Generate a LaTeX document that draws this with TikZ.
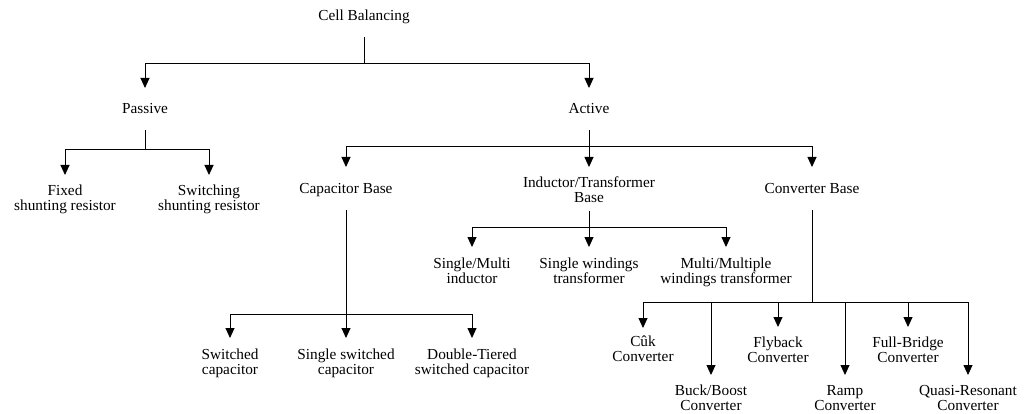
\documentclass[tikz,border=0pt]{standalone}
\usepackage{fontspec}
\setmainfont{Liberation Serif}
\usetikzlibrary{arrows.meta}
\begin{document}
\begin{tikzpicture}[x=1pt,y=-1pt,
  lbl/.style={anchor=north,align=center,inner sep=0pt,outer sep=0pt,font=\fontsize{15.3}{15}\selectfont},
  ln/.style={line width=0.9pt},
  arr/.style={ln,-{Triangle[width=9pt,length=10pt]}}]
\useasboundingbox (0,0) rectangle (1025,414);
% nodes
\node[lbl] (cb) at (364,10) {Cell Balancing};
\node[lbl] (pas) at (145,103) {Passive};
\node[lbl] (act) at (589,103) {Active};
\node[lbl] (fix) at (65,185) {Fixed\\shunting resistor};
\node[lbl] (swi) at (209,185) {Switching\\shunting resistor};
\node[lbl] (cap) at (346,183) {Capacitor Base};
\node[lbl] (ind) at (589,177) {Inductor/Transformer\\Base};
\node[lbl] (conv) at (812,183) {Converter Base};
\node[lbl] (sm) at (472,258) {Single/Multi\\inductor};
\node[lbl] (swt) at (589,258) {Single windings\\transformer};
\node[lbl] (mmw) at (726,258) {Multi/Multiple\\windings transformer};
\node[lbl] (swc) at (230,349) {Switched\\capacitor};
\node[lbl] (ssc) at (346,349) {Single switched\\capacitor};
\node[lbl] (dtc) at (472,349) {Double-Tiered\\switched capacitor};
\node[lbl] (cuk) at (643,336) {Cûk\\Converter};
\node[lbl] (buck) at (711,385) {Buck/Boost\\Converter};
\node[lbl] (fly) at (778,337) {Flyback\\Converter};
\node[lbl] (ramp) at (845,385) {Ramp\\Converter};
\node[lbl] (fb) at (908,337) {Full-Bridge\\Converter};
\node[lbl] (qr) at (968,385) {Quasi-Resonant\\Converter};
% bus coordinates
\coordinate (b0) at (cb.south |- 0,63);
\coordinate (b1) at (pas.south |- 0,149);
\coordinate (b2) at (act.south |- 0,146);
\coordinate (b3) at (cap.south |- 0,314);
\coordinate (b4) at (ind.south |- 0,227);
\coordinate (b5) at (conv.south |- 0,302);
% level 0
\draw[ln] ([yshift=-13.5pt]cb.south) -- (b0);
\draw[arr] (b0) -| ([yshift=15pt]pas.north);
\draw[arr] (b0) -| ([yshift=15pt]act.north);
% passive
\draw[ln] ([yshift=-17pt]pas.south) -- (b1);
\draw[arr] (b1) -| ([yshift=10pt]fix.north);
\draw[arr] (b1) -| ([yshift=10pt]swi.north);
% active
\draw[ln] ([yshift=-17pt]act.south) -- (b2);
\draw[arr] (b2) -| ([yshift=16pt]cap.north);
\draw[arr] (b2) -- ([yshift=10pt]ind.north);
\draw[arr] (b2) -| ([yshift=16pt]conv.north);
% capacitor base
\draw[arr] ([yshift=-13.5pt]cap.south) -- ([yshift=11pt]ssc.north);
\draw[arr] (b3) -| ([yshift=11pt]swc.north);
\draw[arr] (b3) -| ([yshift=11pt]dtc.north);
% inductor/transformer base
\draw[arr] ([yshift=-8pt]ind.south) -- ([yshift=11pt]swt.north);
\draw[arr] (b4) -| ([yshift=11pt]sm.north);
\draw[arr] (b4) -| ([yshift=11pt]mmw.north);
% converter base
\draw[ln] ([yshift=-17pt]conv.south) -- (b5);
\draw[arr] (b5) -| ([yshift=8pt]cuk.north);
\draw[arr] (b5) -| ([yshift=10pt]buck.north);
\draw[arr] (b5) -| ([yshift=10pt]fly.north);
\draw[arr] (b5) -| ([yshift=10pt]ramp.north);
\draw[arr] (b5) -| ([yshift=10pt]fb.north);
\draw[arr] (b5) -| ([yshift=10pt]qr.north);
\end{tikzpicture}
\end{document}
